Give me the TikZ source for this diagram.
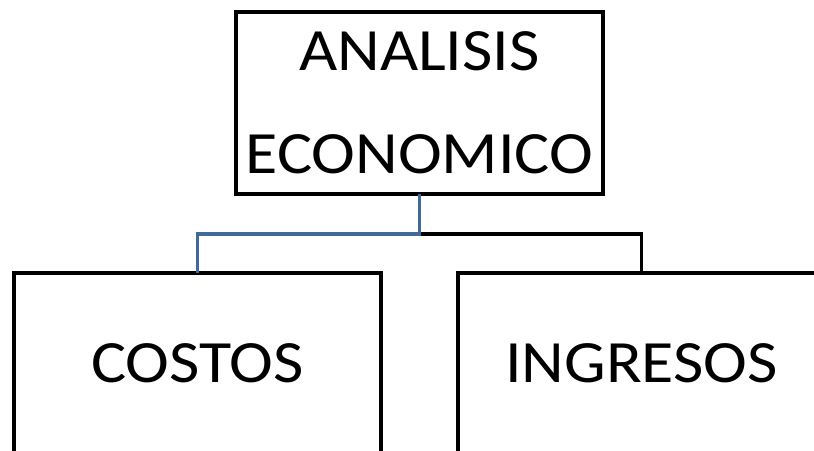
\documentclass[tikz,border=0pt]{standalone}
\usepackage{fontspec}
\setmainfont{Carlito}[FakeStretch=1.1]
\begin{document}
\begin{tikzpicture}[x=1pt,y=-1pt,
  box/.style={draw=black,line width=4pt,minimum width=367pt,minimum height=182pt,
    inner sep=0pt,outer sep=0pt,align=center,font=\fontsize{60}{103}\selectfont},
  blueline/.style={draw={rgb,255:red,65;green,105;blue,155},line width=3.5pt},
  blackline/.style={draw=black,line width=3.5pt}]
\useasboundingbox (0,0) rectangle (814,450);
\clip (0,0) rectangle (814,450);
\node[box] (top) at (419.5,103) {ANALISIS\\ECONOMICO};
\node[box,minimum height=180pt] (costos) at (197.5,363) {COSTOS};
\node[box,minimum height=180pt] (ingresos) at (641.5,363) {INGRESOS};
\coordinate (j) at (419.5,234);
\draw[blackline] (j) -| (ingresos.north);
\draw[blueline] (top.south) -- (j) -| (costos.north);
\end{tikzpicture}
\end{document}
